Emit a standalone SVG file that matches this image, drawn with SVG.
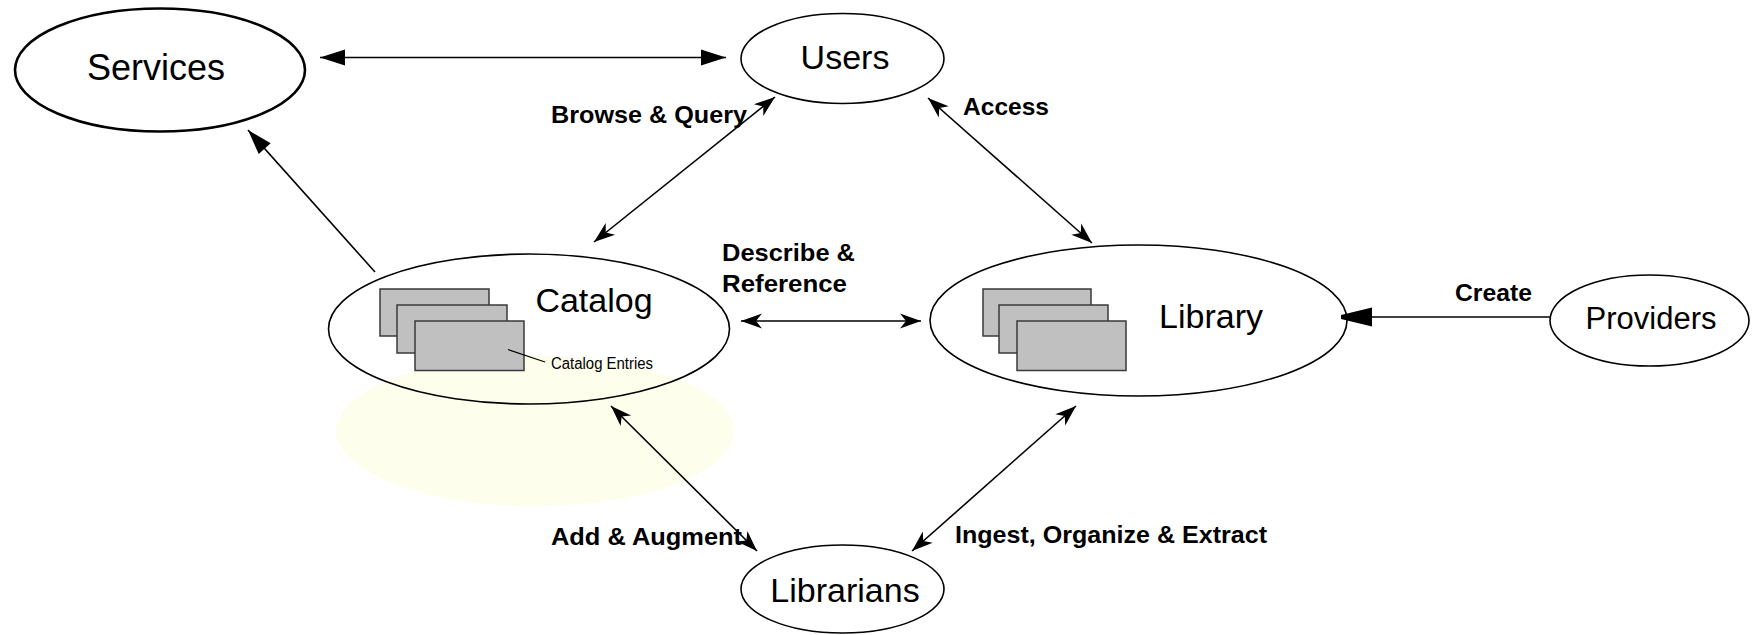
<svg xmlns="http://www.w3.org/2000/svg" width="1754" height="635" viewBox="0 0 1754 635">
  <style>
    .node { fill: #ffffff; stroke: #000000; stroke-width: 1.6; }
    .nlabel { font-family: "Liberation Sans", Arial, sans-serif; font-size: 34px; fill: #000; text-anchor: middle; }
    .elabel { font-family: "Liberation Sans", Arial, sans-serif; font-size: 24px; font-weight: bold; fill: #000; }
    .entry { fill: #c0c0c0; stroke: #3a3a3a; stroke-width: 1.5; }
    .conn { fill: none; stroke: #000; stroke-width: 1.6; }
  </style>
  <defs>
    <marker id="stealth" viewBox="-22 -10 24 20" refX="0" refY="0" markerWidth="24" markerHeight="20" markerUnits="userSpaceOnUse" orient="auto-start-reverse">
      <path d="M0,0 L-21,-7.5 L-15,0 L-21,7.5 Z" fill="#000"/>
    </marker>
    <marker id="tri" viewBox="-27 -10 29 20" refX="0" refY="0" markerWidth="29" markerHeight="20" markerUnits="userSpaceOnUse" orient="auto-start-reverse">
      <path d="M0,0 L-25,-8 L-25,8 Z" fill="#000"/>
    </marker>
    <marker id="blunt" viewBox="-33 -11 35 22" refX="0" refY="0" markerWidth="35" markerHeight="22" markerUnits="userSpaceOnUse" orient="auto">
      <path d="M0,-2 L-31,-9.5 L-31,9.5 L0,2 Z" fill="#000"/>
    </marker>
  </defs>
  <rect x="0" y="0" width="1754" height="635" fill="#ffffff"/>

  <ellipse id="catalog-shadow" cx="535" cy="431" rx="199" ry="75" fill="#fefeec"/>

  <g id="services">
    <ellipse class="node" cx="160" cy="70" rx="145" ry="61.5" style="stroke-width:2.6"/>
    <text class="nlabel" x="156" y="80" style="font-size:36px">Services</text>
  </g>

  <g id="users">
    <ellipse class="node" cx="842.5" cy="58.5" rx="101.5" ry="45"/>
    <text class="nlabel" x="845" y="69">Users</text>
  </g>

  <g id="catalog">
    <ellipse class="node" cx="529" cy="329" rx="200.5" ry="75" style="fill:none"/>
    <rect class="entry" x="380" y="289" width="109" height="47"/>
    <rect class="entry" x="397" y="305" width="110" height="48"/>
    <rect class="entry" x="415" y="321" width="109" height="49.5"/>
    <text class="nlabel" x="594" y="312">Catalog</text>
    <line x1="508" y1="349.5" x2="545" y2="362" stroke="#000" stroke-width="1.2"/>
    <text x="551" y="369" font-family="Liberation Sans, Arial, sans-serif" font-size="16" textLength="102" lengthAdjust="spacingAndGlyphs" fill="#000">Catalog Entries</text>
  </g>

  <g id="library">
    <ellipse class="node" cx="1138.5" cy="320.5" rx="208.5" ry="75.5"/>
    <rect class="entry" x="983" y="289" width="108" height="47"/>
    <rect class="entry" x="999" y="305" width="109" height="48"/>
    <rect class="entry" x="1017" y="321" width="109" height="49.5"/>
    <text class="nlabel" x="1211" y="328">Library</text>
  </g>

  <g id="providers">
    <ellipse class="node" cx="1649.5" cy="320.5" rx="99.5" ry="45.5"/>
    <text class="nlabel" x="1651" y="328.5" style="font-size:31px">Providers</text>
  </g>

  <g id="librarians">
    <ellipse class="node" cx="842.5" cy="589" rx="101.5" ry="44"/>
    <text class="nlabel" x="845" y="601.5">Librarians</text>
  </g>

  <g id="connectors">
    <line class="conn" x1="320" y1="57.5" x2="726" y2="57.5" marker-start="url(#tri)" marker-end="url(#tri)"/>
    <line class="conn" x1="375" y1="272" x2="248" y2="130" marker-end="url(#tri)"/>
    <line class="conn" x1="775" y1="97" x2="594" y2="242" marker-start="url(#stealth)" marker-end="url(#stealth)"/>
    <line class="conn" x1="928" y1="98" x2="1092" y2="243" marker-start="url(#stealth)" marker-end="url(#stealth)"/>
    <line class="conn" x1="741" y1="321" x2="921" y2="321" marker-start="url(#stealth)" marker-end="url(#stealth)"/>
    <line class="conn" x1="611" y1="406" x2="757" y2="551" marker-start="url(#stealth)" marker-end="url(#stealth)"/>
    <line class="conn" x1="1076" y1="406" x2="912" y2="551" marker-start="url(#stealth)" marker-end="url(#stealth)"/>
    <line class="conn" x1="1550" y1="317" x2="1341" y2="317" marker-end="url(#blunt)"/>
    <text class="elabel" x="551" y="123" textLength="196" lengthAdjust="spacingAndGlyphs">Browse &amp; Query</text>
    <text class="elabel" x="963" y="115" textLength="86" lengthAdjust="spacingAndGlyphs">Access</text>
    <text class="elabel" x="722" y="261" textLength="133" lengthAdjust="spacingAndGlyphs">Describe &amp;</text>
    <text class="elabel" x="722" y="292" textLength="125" lengthAdjust="spacingAndGlyphs">Reference</text>
    <text class="elabel" x="1455" y="301" textLength="77" lengthAdjust="spacingAndGlyphs">Create</text>
    <text class="elabel" x="551" y="545" textLength="191" lengthAdjust="spacingAndGlyphs">Add &amp; Augment</text>
    <text class="elabel" x="955" y="543" textLength="312" lengthAdjust="spacingAndGlyphs">Ingest, Organize &amp; Extract</text>
  </g>
</svg>
